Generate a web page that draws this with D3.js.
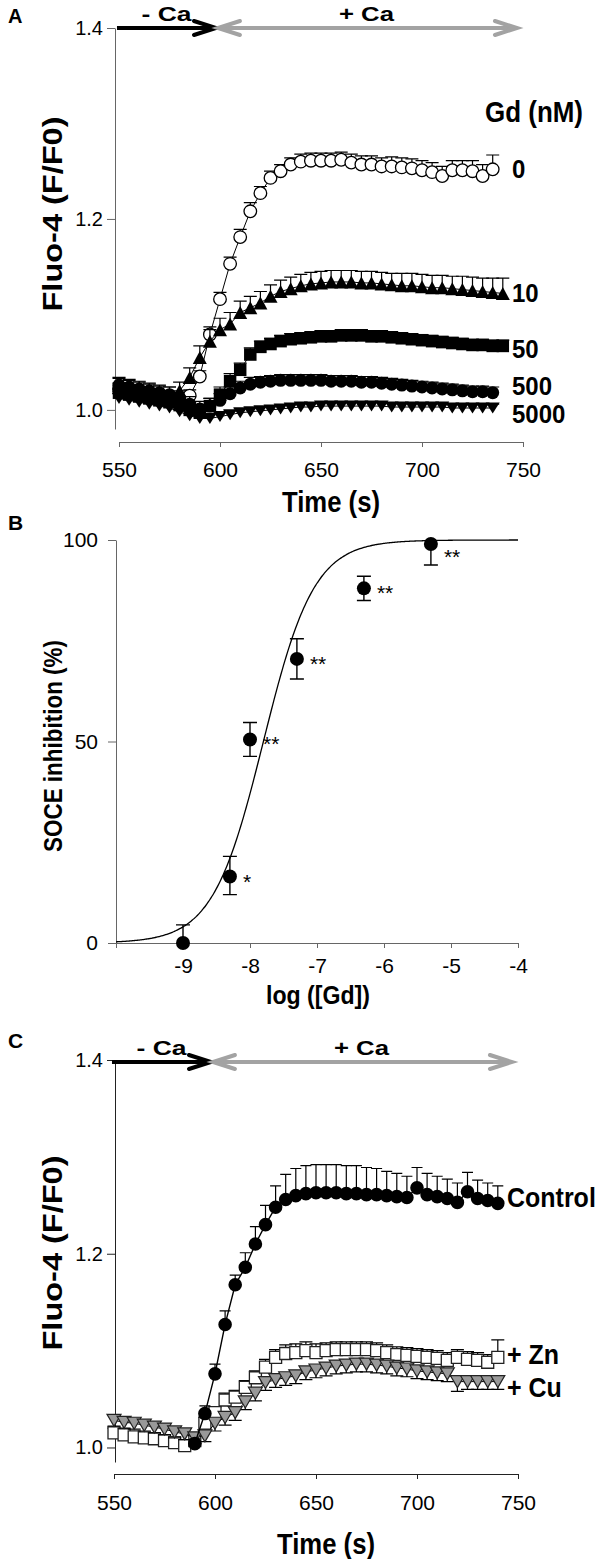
<!DOCTYPE html>
<html><head><meta charset="utf-8">
<script src="https://cdn.jsdelivr.net/npm/d3@7"></script>
<style>body{margin:0;background:#fff} svg{display:block}</style>
</head><body><script>
// ---------------- DATA ----------------
const timesA = [550,555,560,565,570,575,580,585,590,595,600,605,610,615,620,625,630,635,640,645,650,655,660,665,670,675,680,685,690,695,700,705,710,715,720,725,730,735,740];
const gd0 = [1.022,1.020,1.018,1.016,1.014,1.012,1.012,1.015,1.035,1.079,1.116,1.153,1.181,1.208,1.227,1.243,1.250,1.257,1.260,1.261,1.261,1.261,1.262,1.259,1.257,1.257,1.255,1.255,1.254,1.253,1.251,1.249,1.245,1.251,1.251,1.250,1.245,1.252];
const gd0Err = [0.006,0.006,0.006,0.006,0.006,0.006,0.006,0.006,0.006,0.008,0.007,0.007,0.008,0.009,0.007,0.007,0.007,0.007,0.008,0.008,0.008,0.008,0.008,0.009,0.009,0.009,0.009,0.010,0.010,0.010,0.010,0.010,0.010,0.010,0.010,0.011,0.012,0.015];
const gd10 = [1.025,1.023,1.021,1.019,1.017,1.016,1.020,1.034,1.055,1.072,1.084,1.090,1.102,1.107,1.112,1.119,1.124,1.127,1.130,1.132,1.133,1.134,1.134,1.134,1.133,1.133,1.132,1.131,1.130,1.130,1.129,1.128,1.128,1.127,1.126,1.125,1.124,1.123,1.122];
const gd10Err = [0.008,0.008,0.008,0.008,0.008,0.008,0.009,0.010,0.012,0.012,0.012,0.012,0.012,0.012,0.012,0.012,0.012,0.012,0.012,0.012,0.012,0.012,0.012,0.012,0.012,0.012,0.012,0.012,0.013,0.013,0.013,0.013,0.013,0.013,0.014,0.014,0.014,0.015,0.016];
const gd50 = [1.018,1.016,1.014,1.012,1.010,1.008,1.005,1.000,0.997,1.004,1.016,1.030,1.042,1.058,1.066,1.069,1.072,1.074,1.075,1.076,1.077,1.077,1.078,1.078,1.078,1.077,1.077,1.076,1.075,1.074,1.073,1.072,1.071,1.070,1.069,1.068,1.068,1.067,1.067];
const gd50Err = [0.008,0.008,0.008,0.008,0.008,0.008,0.008,0.008,0.008,0.008,0.008,0.008,0.007,0.007,0.006,0.006,0.006,0.006,0.006,0.006,0.006,0.006,0.006,0.006,0.006,0.006,0.006,0.006,0.006,0.006,0.006,0.006,0.006,0.006,0.006,0.006,0.006,0.006,0.006];
const gd500 = [1.026,1.024,1.022,1.020,1.018,1.016,1.012,1.006,1.001,1.004,1.010,1.017,1.023,1.027,1.029,1.030,1.031,1.031,1.031,1.031,1.031,1.030,1.030,1.030,1.029,1.029,1.028,1.027,1.026,1.025,1.024,1.023,1.022,1.021,1.020,1.019,1.019,1.018];
const gd500Err = [0.008,0.008,0.008,0.008,0.008,0.008,0.008,0.008,0.008,0.008,0.007,0.007,0.007,0.007,0.006,0.006,0.006,0.006,0.006,0.006,0.006,0.006,0.006,0.006,0.006,0.006,0.006,0.006,0.006,0.006,0.006,0.006,0.006,0.006,0.006,0.006,0.006,0.006];
const gd5000 = [1.012,1.010,1.008,1.006,1.004,1.002,0.998,0.994,0.991,0.991,0.993,0.995,0.997,0.998,0.999,1.000,1.001,1.002,1.003,1.003,1.004,1.004,1.004,1.004,1.004,1.004,1.004,1.003,1.003,1.003,1.003,1.003,1.003,1.002,1.002,1.002,1.002,1.002];
const gd5000Err = [0.005,0.005,0.005,0.005,0.005,0.005,0.005,0.005,0.005,0.005,0.004,0.004,0.004,0.004,0.004,0.004,0.004,0.004,0.004,0.004,0.004,0.004,0.004,0.004,0.004,0.004,0.004,0.004,0.004,0.004,0.004,0.004,0.004,0.004,0.004,0.004,0.004,0.004];
const gdLabels = ["0","10","50","500","5000"];

const timeTicks = [550,600,650,700,750];
const fluoTicks = [1.0,1.2,1.4];
const caPhases = ["- Ca","+ Ca"];
const caStart = [549,598];
const caEnd = [598,747];

// Panel B
const logGd = [-9,-8.3,-8,-7.3,-6.3,-5.3];
const inhib = [0,16.5,50.5,70.5,88,99];
const inhibErrUp = [4.5,5,4.2,5,3,0];
const inhibErrDown = [0,4.5,4.2,5,3,5.2];
const stars = ["","*","**","**","**","**"];
const logTicks = [-10,-9,-8,-7,-6,-5,-4];
const logTickLabels = ["","-9","-8","-7","-6","-5","-4"];
const inhibTicks = [0,50,100];
const fitLogIC50 = -7.8;
const fitHill = 1.15;

// Panel C
const timesC = [550,555,560,565,570,575,580,585,590,595,600,605,610,615,620,625,630,635,640,645,650,655,660,665,670,675,680,685,690,695,700,705,710,715,720,725,730,735,740];
const timesCtrl = [590,595,600,605,610,615,620,625,630,635,640,645,650,655,660,665,670,675,680,685,690,695,700,705,710,715,720,725,730,735,740];
const ctrl = [1.004,1.035,1.076,1.127,1.168,1.186,1.210,1.230,1.248,1.256,1.260,1.262,1.263,1.263,1.263,1.262,1.262,1.261,1.261,1.260,1.259,1.258,1.268,1.261,1.259,1.257,1.253,1.264,1.257,1.255,1.252];
const ctrlErr = [0.005,0.008,0.010,0.014,0.010,0.015,0.018,0.020,0.022,0.026,0.028,0.029,0.029,0.029,0.029,0.029,0.029,0.028,0.027,0.025,0.024,0.022,0.021,0.022,0.021,0.020,0.020,0.020,0.019,0.018,0.018];
const zn = [1.015,1.013,1.011,1.010,1.009,1.007,1.005,1.002,1.007,1.025,1.036,1.049,1.052,1.062,1.072,1.083,1.093,1.097,1.098,1.100,1.098,1.100,1.101,1.101,1.101,1.101,1.100,1.098,1.096,1.095,1.094,1.093,1.092,1.090,1.093,1.091,1.090,1.088,1.093];
const znErr = [0.005,0.005,0.005,0.005,0.005,0.005,0.005,0.005,0.005,0.006,0.006,0.007,0.007,0.007,0.007,0.008,0.008,0.009,0.009,0.009,0.009,0.008,0.008,0.008,0.008,0.008,0.008,0.008,0.008,0.008,0.008,0.008,0.008,0.008,0.008,0.008,0.008,0.008,0.018];
const cu = [1.028,1.026,1.025,1.023,1.021,1.019,1.016,1.014,1.010,1.012,1.025,1.031,1.036,1.047,1.056,1.067,1.070,1.072,1.074,1.078,1.080,1.082,1.084,1.085,1.086,1.086,1.085,1.084,1.082,1.081,1.079,1.078,1.077,1.076,1.068,1.068,1.068,1.068,1.068];
const cuErr = [0.006,0.006,0.006,0.006,0.006,0.006,0.006,0.006,0.006,0.006,0.008,0.008,0.008,0.008,0.008,0.008,0.008,0.008,0.008,0.008,0.008,0.008,0.008,0.008,0.008,0.008,0.008,0.008,0.008,0.008,0.008,0.008,0.008,0.008,0.010,0.008,0.008,0.008,0.008];
const cLabels = ["Control","+ Zn","+ Cu"];

// ---------------- DRAWING ----------------
const FONT = '"Liberation Sans", Arial, Helvetica, sans-serif';
const svg = d3.select('body').append('svg').attr('width',601).attr('height',1559);
svg.append('rect').attr('width',601).attr('height',1559).attr('fill','#fff');

function label(s, x, y, o={}) {
  const t = svg.append('text').text(s)
    .attr('font-family',FONT).attr('font-size',o.size||25)
    .attr('font-weight',o.weight||'bold').attr('text-anchor',o.anchor||'start')
    .attr('fill',o.fill||'#000');
  let tr = `translate(${x},${y})`;
  if (o.sy && o.sy!==1) tr += ` scale(1,${o.sy})`;
  if (o.rot) tr += ` rotate(${o.rot})`;
  t.attr('transform',tr);
  if (o.len) t.attr('textLength',o.len).attr('lengthAdjust','spacingAndGlyphs');
  return t;
}

const sym = {
  circle: r => `M${-r},0A${r},${r} 0 1,0 ${r},0A${r},${r} 0 1,0 ${-r},0Z`,
  square: s => `M${-s/2},${-s/2}h${s}v${s}h${-s}Z`,
  triUp: (w,h) => `M0,${-h/2}L${w/2},${h/2}L${-w/2},${h/2}Z`,
  triDown: (w,h) => `M0,${h/2}L${w/2},${-h/2}L${-w/2},${-h/2}Z`
};

function series(xs, ts, vs, errs, o) {
  const g = svg.append('g');
  const pts = vs.map((v,i)=>({x:xs(ts[i]), y:o.y(v), ye:o.y(v + (o.down?-1:1)*errs[i])}));
  if (o.line) g.append('path').attr('d', d3.line().x(d=>d.x).y(d=>d.y)(pts))
      .attr('fill','none').attr('stroke','#000').attr('stroke-width',o.lw||1);
  const cw = o.cap||13;
  g.selectAll('.eb').data(pts).join('path')
    .attr('d', d=>`M${d.x},${d.y}V${d.ye}M${d.x-cw/2},${d.ye}H${d.x+cw/2}`)
    .attr('stroke','#000').attr('stroke-width',1.2).attr('fill','none');
  g.selectAll('.mk').data(pts).join('path')
    .attr('transform', d=>`translate(${d.x},${d.y})`)
    .attr('d', o.shape)
    .attr('fill', o.fill).attr('stroke', o.stroke||'none').attr('stroke-width', o.sw||1.2);
}

function arrowHead(x, y, dir, color) {
  svg.append('path')
    .attr('d', `M${x - dir*22},${y-7}L${x},${y}L${x - dir*22},${y+7}`)
    .attr('fill','none').attr('stroke',color).attr('stroke-width',4)
    .attr('stroke-linejoin','miter').attr('stroke-linecap','round');
}

function caArrows(xs, y) {
  caPhases.forEach((lab,i)=>{
    const x0 = xs(caStart[i]), x1 = xs(caEnd[i]);
    const col = i===0 ? '#000' : '#a3a3a3';
    svg.append('line').attr('x1', x0 + (i===0?0:4)).attr('x2', x1 - 3).attr('y1',y).attr('y2',y)
      .attr('stroke',col).attr('stroke-width',4);
    arrowHead(x1, y, 1, col);
    if (i===1) arrowHead(x0+2, y, -1, col);
    label(lab, (x0+x1)/2, y-7, {size:21, anchor:'middle', len: i===0?50:55});
  });
}

function styleAxis(g, color, fs) {
  g.selectAll('.domain').attr('stroke', color).attr('stroke-width',1);
  g.selectAll('.tick line').attr('stroke', color).attr('stroke-width',1);
  g.selectAll('.tick text').attr('fill','#000').attr('font-size',fs).attr('font-family',FONT);
  g.attr('font-family',FONT);
}

// ===== Panel A =====
const xA = d3.scaleLinear().domain([550,750]).range([119,523]);
const yA = d3.scaleLinear().domain([0.98,1.4]).range([429,28]);
{
  const gy = svg.append('g').attr('transform','translate(115,0)')
    .call(d3.axisLeft(yA).tickValues(fluoTicks).tickFormat(d3.format('.1f')).tickSize(8).tickSizeOuter(0).tickPadding(4));
  styleAxis(gy,'#666',20);
  const gx = svg.append('g').attr('transform','translate(0,442)')
    .call(d3.axisBottom(xA).tickValues(timeTicks).tickSize(5).tickSizeOuter(0).tickPadding(15));
  styleAxis(gx,'#666',21);
  caArrows(xA, 28);

  series(xA, timesA, gd0, gd0Err, {y:yA, line:true, shape:sym.circle(6.3), fill:'#fff', stroke:'#000', sw:1.3});
  series(xA, timesA, gd10, gd10Err, {y:yA, line:true, shape:sym.triUp(14,13), fill:'#000'});
  series(xA, timesA, gd50, gd50Err, {y:yA, line:true, shape:sym.square(12.5), fill:'#000'});
  series(xA, timesA, gd500, gd500Err, {y:yA, line:true, shape:sym.circle(6.5), fill:'#000'});
  series(xA, timesA, gd5000, gd5000Err, {y:yA, line:true, shape:sym.triDown(14,11), fill:'#000'});

  const labY = [178,302,358,395,423];
  gdLabels.forEach((s,i)=>label(s, 512, labY[i], {size:24, sy:1.1}));
  label('Gd (nM)', 485, 122, {size:26, sy:1.1, len:98});
  label('Time (s)', 331, 512, {size:26, anchor:'middle', sy:1.12, len:98});
  label('Fluo-4 (F/F0)', 62, 214, {size:27, anchor:'middle', rot:-90, len:195});
  label('A', 8, 23, {size:20});
}

// ===== Panel B =====
const xB = d3.scaleLinear().domain([-10,-4]).range([116,518]);
const yB = d3.scaleLinear().domain([0,100]).range([943,540]);
{
  const gy = svg.append('g').attr('transform','translate(116,0)')
    .call(d3.axisLeft(yB).tickValues(inhibTicks).tickSize(8).tickSizeOuter(0).tickPadding(10));
  styleAxis(gy,'#666',21);
  const gx = svg.append('g').attr('transform','translate(0,943)')
    .call(d3.axisBottom(xB).tickValues(logTicks).tickFormat((d,i)=>logTickLabels[i]).tickSize(5).tickSizeOuter(0).tickPadding(10));
  styleAxis(gx,'#666',21);

  const fitX = d3.range(-10, -3.999, 0.02);
  const hill = x => 100/(1+Math.pow(10,(fitLogIC50 - x)*fitHill));
  svg.append('path').attr('d', d3.line().x(d=>xB(d)).y(d=>yB(hill(d))).curve(d3.curveBasis)(fitX))
    .attr('fill','none').attr('stroke','#000').attr('stroke-width',1.3);

  const g = svg.append('g');
  logGd.forEach((lx,i)=>{
    const cx = xB(lx), cy = yB(inhib[i]);
    const yt = yB(inhib[i]+inhibErrUp[i]), yb = yB(inhib[i]-inhibErrDown[i]);
    if (inhibErrUp[i]>0) g.append('path').attr('d',`M${cx},${cy}V${yt}M${cx-7},${yt}H${cx+7}`).attr('stroke','#000').attr('stroke-width',1.4).attr('fill','none');
    if (inhibErrDown[i]>0) g.append('path').attr('d',`M${cx},${cy}V${yb}M${cx-7},${yb}H${cx+7}`).attr('stroke','#000').attr('stroke-width',1.4).attr('fill','none');
    g.append('path').attr('transform',`translate(${cx},${cy})`).attr('d',sym.circle(7)).attr('fill','#000');
    if (stars[i]) {
      const dy = i===5 ? 20 : 12;
      label(stars[i], cx+13, cy+dy, {size:21, weight:'normal'});
    }
  });
  label('log ([Gd])', 318, 1004, {size:23, anchor:'middle', sy:1.12, len:104});
  label('SOCE inhibition (%)', 62, 746, {size:26, anchor:'middle', rot:-90, len:212});
  label('B', 8, 530, {size:21});
}

// ===== Panel C =====
const xC = d3.scaleLinear().domain([550,750]).range([114,518]);
const yC = d3.scaleLinear().domain([0.985,1.4]).range([1462,1060]);
{
  const gy = svg.append('g').attr('transform','translate(115,0)')
    .call(d3.axisLeft(yC).tickValues(fluoTicks).tickFormat(d3.format('.1f')).tickSize(8).tickSizeOuter(0).tickPadding(4));
  styleAxis(gy,'#222',20);
  const gx = svg.append('g').attr('transform','translate(0,1474)')
    .call(d3.axisBottom(xC).tickValues(timeTicks).tickSize(5).tickSizeOuter(0).tickPadding(16));
  styleAxis(gx,'#222',21);
  caArrows(xC, 1062);

  series(xC, timesC, zn, znErr, {y:yC, line:true, shape:sym.square(12), fill:'#fff', stroke:'#222', sw:1.3});
  series(xC, timesC, cu, cuErr, {y:yC, line:true, down:true, shape:sym.triDown(14,12), fill:'#999', stroke:'#222', sw:1.2});
  series(xC, timesCtrl, ctrl, ctrlErr, {y:yC, line:true, lw:1.4, shape:sym.circle(6.8), fill:'#000', cap:11});

  const labY = [1207,1364,1397];
  cLabels.forEach((s,i)=>label(s, 507, labY[i], {size:25, sy:1.12}));
  label('Time (s)', 326, 1554, {size:26, anchor:'middle', sy:1.12, len:98});
  label('Fluo-4 (F/F0)', 62, 1253, {size:27, anchor:'middle', rot:-90, len:195});
  label('C', 8, 1048, {size:21});
}
</script></body></html>
